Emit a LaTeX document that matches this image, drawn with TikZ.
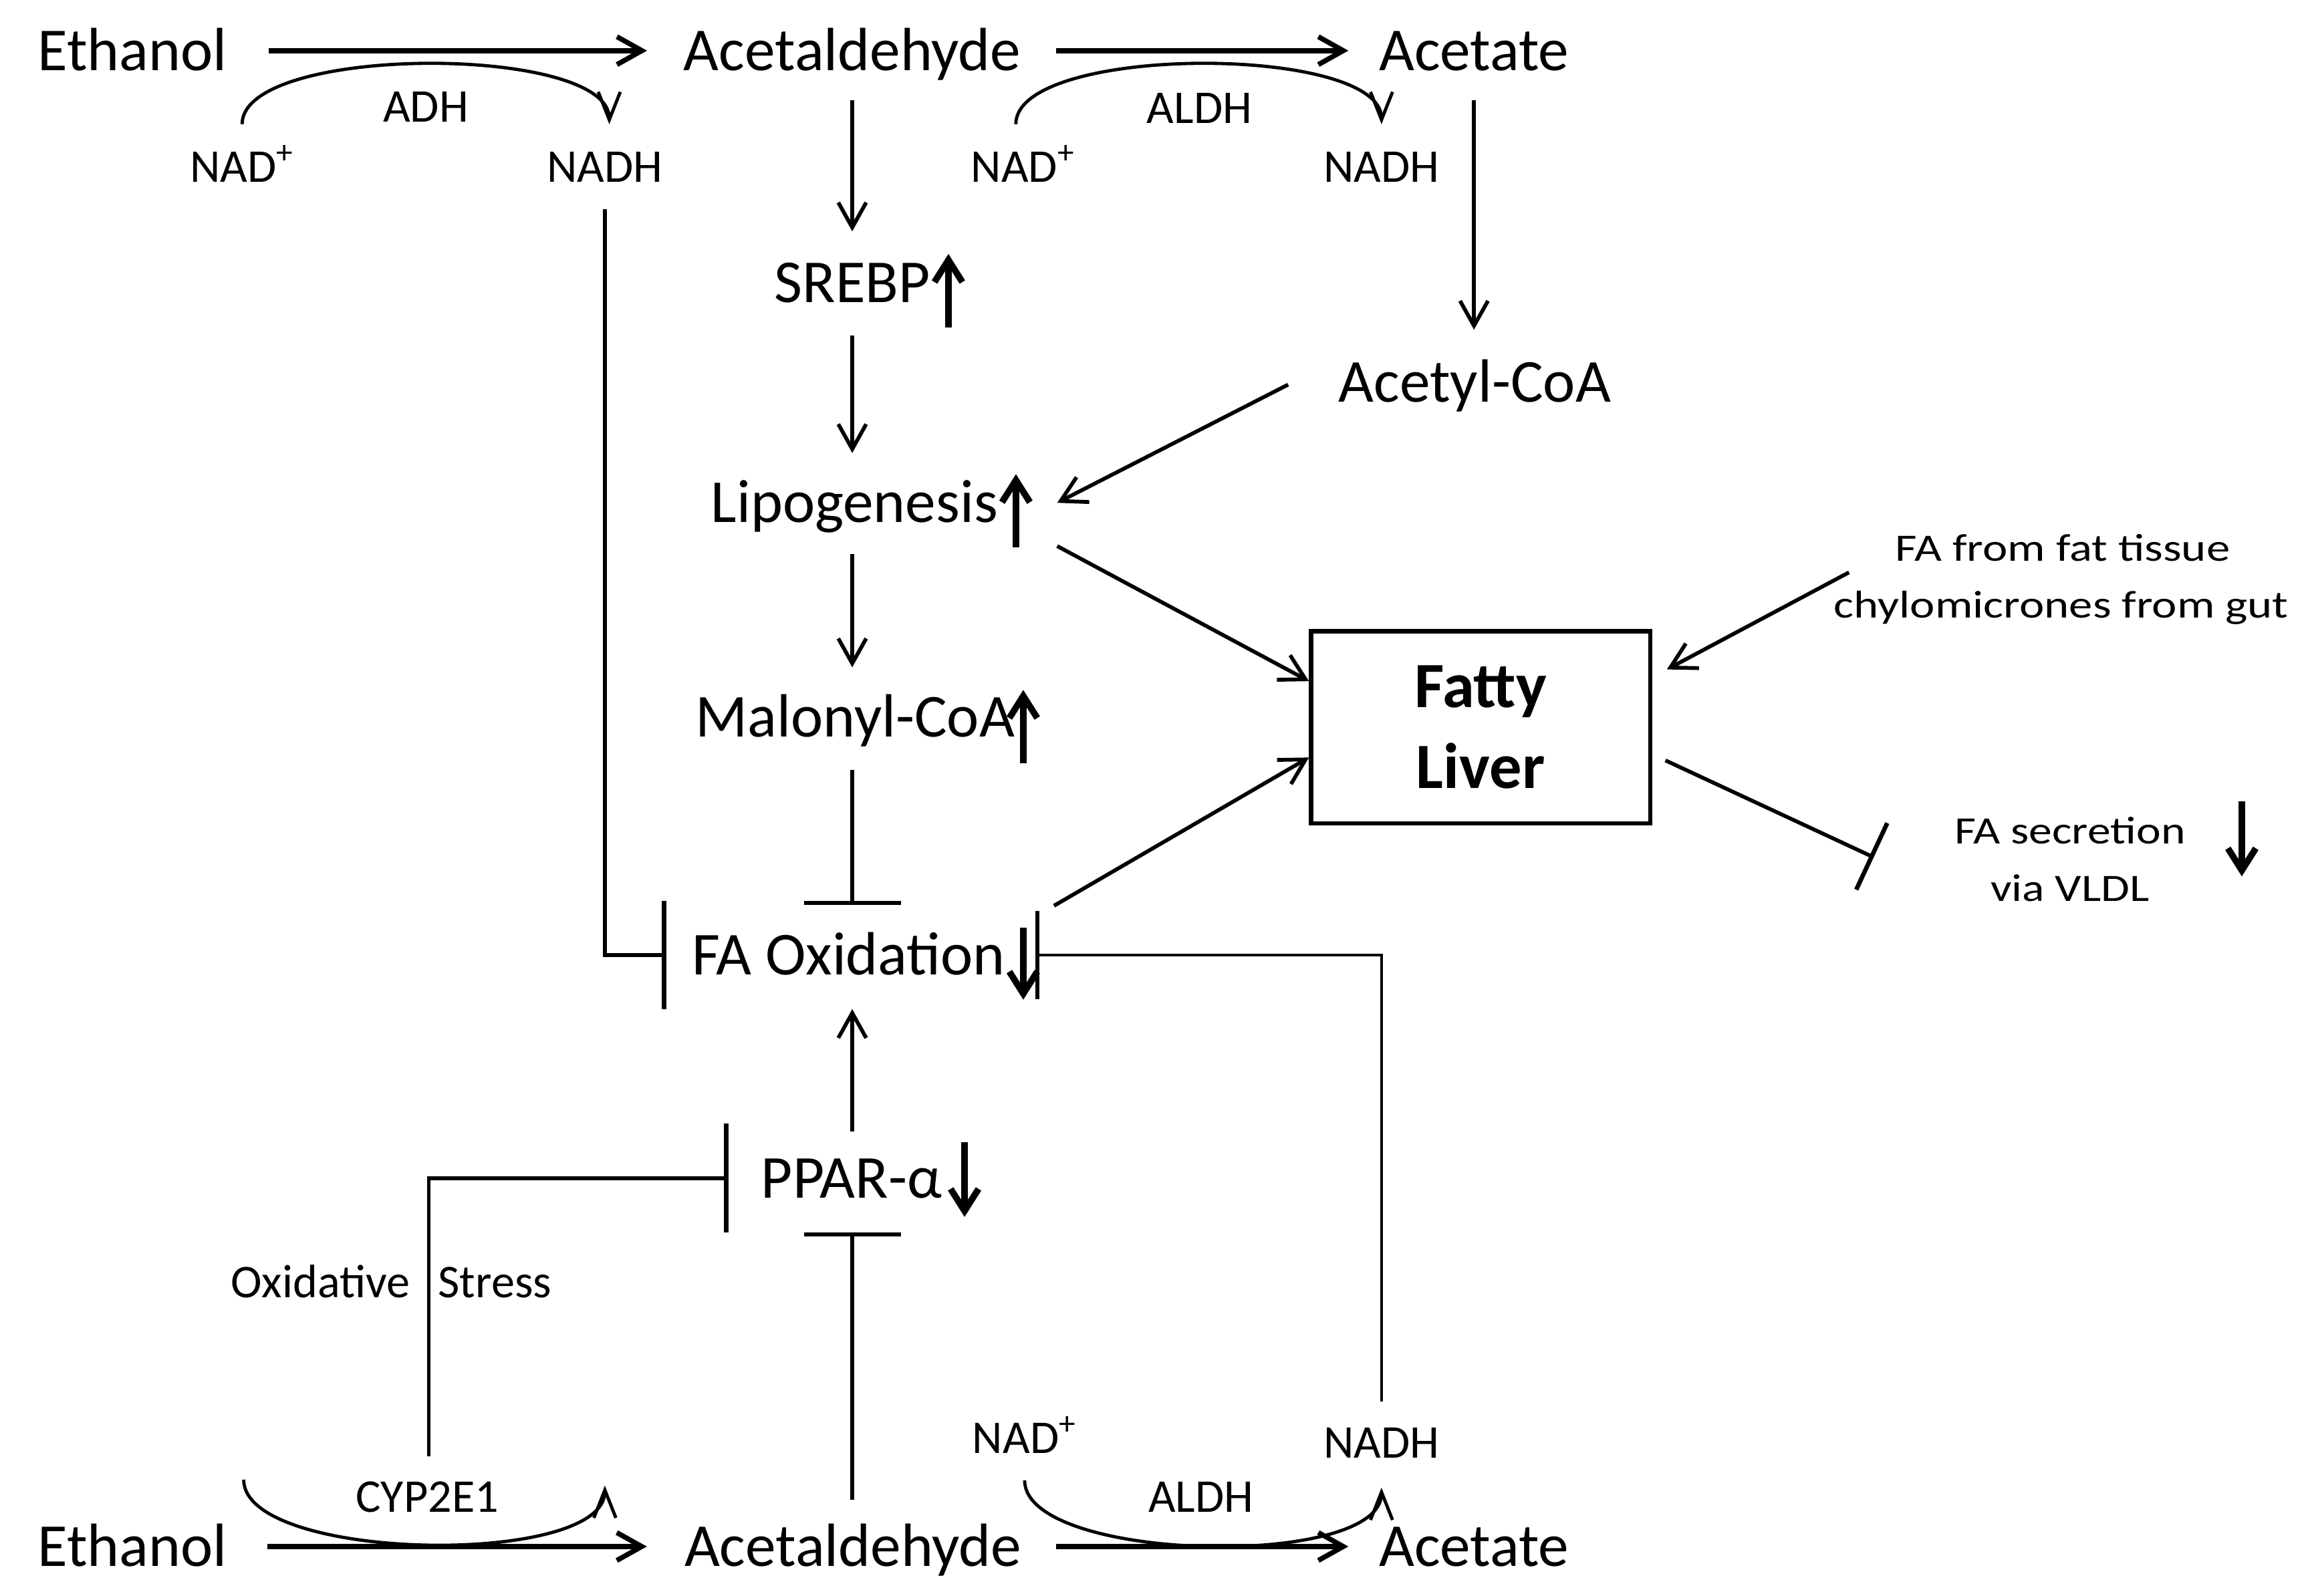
\documentclass[tikz,border=0pt]{standalone}
\usepackage{fontspec}
\setmainfont{Carlito}
\usetikzlibrary{arrows.meta}
\begin{document}
\begin{tikzpicture}[x=0.5pt,y=-0.5pt,
  big/.style={font=\fontsize{20.8pt}{25pt}\selectfont, inner sep=0pt, text height=17.5pt, text depth=4pt, anchor=base},
  small/.style={font=\fontsize{16pt}{19pt}\selectfont, inner sep=0pt, text height=12pt, text depth=3.5pt, anchor=base},
  rsmall/.style={font=\fontsize{13.2pt}{16pt}\selectfont, inner sep=0pt, text height=10pt, text depth=3pt, anchor=base},
  liverbox/.style={draw, line width=1.4pt, minimum width=115.5pt, minimum height=65.5pt, align=center, inner sep=0pt, font=\bfseries\fontsize{22pt}{27.5pt}\selectfont},
  conn/.style={line width=1.3pt, -{Straight Barb[length=8.5pt,width=9.5pt]}},
  mainarrow/.style={line width=1.7pt, -{Straight Barb[length=8.5pt,width=9.5pt]}},
  inhib/.style={line width=1.3pt, -{Bar[width=#1, line width=1.5pt]}},
  thininhib/.style={line width=1pt, -{Bar[width=#1, line width=1.5pt]}},
  cofarc/.style={line width=1.1pt, -{Straight Barb[length=9.5pt,width=7.5pt]}},
  indic/.style={line width=2.2pt, -{Straight Barb[length=7.5pt,width=9.5pt]}},
]
\useasboundingbox (0,0) rectangle (1568,1086.8);

% ---------- main nodes ----------
\node[big] (eth1)   at (90.3,48)   {Ethanol};
\node[big] (acald1) at (580.5,48)  {Acetaldehyde};
\node[big] (acet1)  at (1004,48)   {Acetate};
\node[big] (srebp)  at (580.5,206) {SREBP};
\node[big] (acoa)   at (1004.5,274) {Acetyl-CoA};
\node[big] (lipo)   at (582,356)   {Lipogenesis};
\node[big] (malo)   at (582.5,502) {Malonyl-CoA};
\node[big] (faox)   at (578,664)   {FA Oxidation};
\node[big] (ppar)   at (580,816)   {PPAR-α};
\node[big] (eth2)   at (90.3,1067) {Ethanol};
\node[big] (acald2) at (581,1067)  {Acetaldehyde};
\node[big] (acet2)  at (1004,1067) {Acetate};

\node[liverbox] (liver) at (1008.5,495.5) {Fatty\\Liver};

% ---------- small labels ----------
\node[small, anchor=base west] (nad1) at (129,124) {NAD\textsuperscript{+}};
\node[small] (nadh1) at (412,124) {NADH};
\node[small] (adh)   at (290,83)  {ADH};
\node[small, anchor=base west] (nad2) at (661,124) {NAD\textsuperscript{+}};
\node[small] (nadh2) at (941,124) {NADH};
\node[small] (aldh1) at (817,84)  {ALDH};
\node[small, anchor=base west] (nad3) at (662,990) {NAD\textsuperscript{+}};
\node[small] (nadh3) at (941,993) {NADH};
\node[small] (cyp)   at (291,1030) {CYP2E1};
\node[small] (aldh2) at (818,1030) {ALDH};
\node[small, anchor=base west] (oxa) at (157,884) {Oxidative};
\node[small, anchor=base east] (oxb) at (376,884) {Stress};

\node[rsmall] (fa1) at (1405,382) {\scalebox{1.22}[1]{FA from fat tissue}};
\node[rsmall] (fa2) at (1404,421) {\scalebox{1.22}[1]{chylomicrones from gut}};
\node[rsmall] (fs1) at (1410,575) {\scalebox{1.2}[1]{FA secretion}};
\node[rsmall] (fs2) at (1410,614) {\scalebox{1.2}[1]{via VLDL}};

\coordinate (oxs)  at (292,992);
\coordinate (cyps) at (166,1008);
\coordinate (cype) at (412,1012);

% ---------- horizontal reaction arrows ----------
\draw[mainarrow, shorten <=14pt, shorten >=12.3pt] (eth1.east) -- (acald1.west);
\draw[mainarrow, shorten <=11.9pt, shorten >=10.25pt] (acald1.east) -- (acet1.west);
\draw[mainarrow, shorten <=13.5pt, shorten >=12.6pt] (eth2.east) -- (acald2.west);
\draw[mainarrow, shorten <=11.6pt, shorten >=10.25pt] (acald2.east) -- (acet2.west);

% ---------- cofactor arcs ----------
\draw[cofarc] ([yshift=7.5pt]nad1.north) .. controls +(0,27.3pt) and +(0,27.3pt) .. ([xshift=1.5pt,yshift=7.5pt]nadh1.north);
\draw[cofarc] ([xshift=-2.5pt,yshift=7.5pt]nad2.north) .. controls +(0,27.3pt) and +(0,27.3pt) .. ([yshift=7.5pt]nadh2.north);
\draw[cofarc] (cyps) .. controls +(0,-28pt) and +(0,-28pt) .. (cype);
\draw[cofarc] ([yshift=-5.5pt]nad3.south) .. controls +(0,-28pt) and +(0,-28pt) .. ([yshift=-6.5pt]nadh3.south);

% ---------- vertical chain ----------
\draw[conn, shorten <=6pt, shorten >=6.5pt] (acald1.south) -- (acald1.south |- srebp.north);
\draw[conn, shorten <=7pt, shorten >=6pt] (srebp.south) -- (srebp.south |- lipo.north);
\draw[conn, shorten <=6.5pt, shorten >=6pt] (lipo.south -| srebp.south) -- (srebp.south |- malo.north);
\draw[inhib=33pt, shorten <=7pt, shorten >=6pt] (malo.south -| srebp.south) -- (srebp.south |- faox.north);
\draw[conn, shorten <=5pt, shorten >=7.5pt] (ppar.north -| srebp.south) -- (srebp.south |- faox.south);
\draw[inhib=33pt, shorten <=5pt, shorten >=7.5pt] (acald2.north -| srebp.south) -- (srebp.south |- ppar.south);
\draw[conn, shorten <=6pt, shorten >=7pt] (acet1.south) -- (acet1.south |- acoa.north);

% ---------- inhibitions of FA oxidation / PPAR ----------
\draw[inhib=37pt, shorten <=5.5pt, shorten >=8.5pt] (nadh1.south) |- (faox.west);
\draw[thininhib=30pt, shorten <=7pt, shorten >=10pt] (nadh3.north) |- (faox.east);
\draw[inhib=37pt, shorten >=11pt] (oxs) |- (ppar.west);

% ---------- diagonal arrows ----------
\draw[conn] ([xshift=-17pt,yshift=-0.75pt]acoa.west) -- ([xshift=20pt]lipo.east);
\draw[conn] ([xshift=20pt,yshift=-14.75pt]lipo.east) -- ([yshift=15.75pt]liver.west);
\draw[conn] ([xshift=16.4pt,yshift=16.75pt]faox.east) -- ([yshift=-10.25pt]liver.west);
\draw[conn] ([xshift=-15.6pt,yshift=-0.75pt]fa1.south west) -- ([xshift=5pt,yshift=19.75pt]liver.east);
\draw[inhib=25pt] ([xshift=4.5pt,yshift=-11.25pt]liver.east) -- ([xshift=-27.4pt,yshift=-8pt]fs1.west);

% ---------- up / down indicators ----------
\draw[indic] (646,223) -- (646,173);
\draw[indic] (692,373) -- (692,323);
\draw[indic] (697,520) -- (697,470);
\draw[indic] (697,632) -- (697,681);
\draw[indic] (657,778) -- (657,829);
\draw[indic] (1527,546) -- (1527,597);
\end{tikzpicture}
\end{document}
